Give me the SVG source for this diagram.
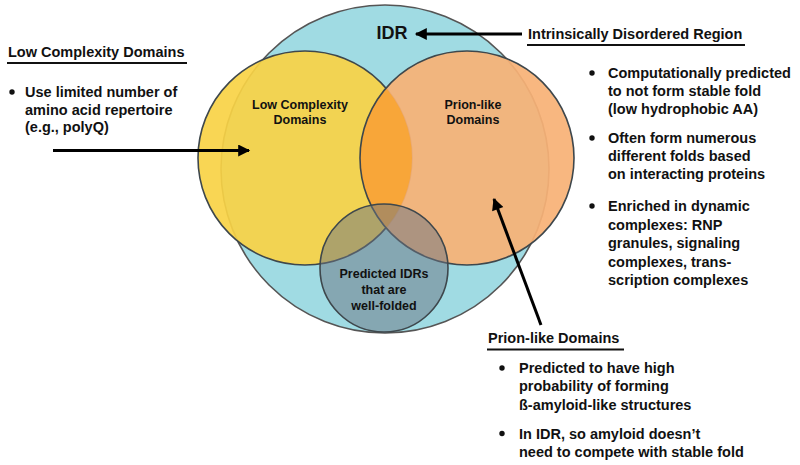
<svg xmlns="http://www.w3.org/2000/svg" width="800" height="465" viewBox="0 0 800 465">
<style>
text{font-family:"Liberation Sans",Arial,sans-serif;font-weight:bold;fill:#111}
.h{font-size:14.5px}
.t{font-size:14.5px}
.c{font-size:12.5px;text-anchor:middle}
.ul{stroke:#111;stroke-width:2}
.arr{stroke:#000;stroke-width:3;fill:none}
.circ{stroke:#3e474c;stroke-width:1.6}
</style>
<defs>
<marker id="ah" viewBox="0 0 10 10" refX="9" refY="5" markerWidth="4.4" markerHeight="4" orient="auto" markerUnits="strokeWidth">
<path d="M0,0 L10,5 L0,10 z" fill="#000"/>
</marker>
<clipPath id="clipY"><circle cx="305" cy="158" r="107"/></clipPath>
</defs>
<g id="venn">
<g id="idr-circle"><circle cx="385" cy="169" r="164" fill="#a0dbe3" stroke="#555" stroke-width="1.6"/>
<text x="392" y="39" style="font-size:18px;text-anchor:middle">IDR</text></g>
<g id="lcd-circle"><circle cx="305" cy="158" r="107" fill="#f9d245" fill-opacity="0.92" class="circ"/></g>
<g id="pld-circle"><circle cx="467" cy="158" r="107" fill="#f8b176" fill-opacity="0.93" stroke="none"/>
<circle cx="467" cy="158" r="107" fill="#f8a535" fill-opacity="0.93" clip-path="url(#clipY)"/>
<circle cx="467" cy="158" r="107" fill="none" class="circ"/></g>
<g id="folded-circle"><circle cx="384" cy="268" r="64" fill="#697382" fill-opacity="0.5" class="circ"/></g>
<g id="labels-in">
<text class="c" x="300" y="109">Low Complexity</text>
<text class="c" x="300" y="124">Domains</text>
<text class="c" x="473" y="109">Prion-like</text>
<text class="c" x="473" y="124">Domains</text>
<text class="c" x="384" y="278">Predicted IDRs</text>
<text class="c" x="384" y="294">that are</text>
<text class="c" x="384" y="310">well-folded</text>
</g>
</g>
<g id="connectors">
<line class="arr" x1="53" y1="150.5" x2="249" y2="150.5" marker-end="url(#ah)"/>
<line class="arr" x1="522" y1="34" x2="416" y2="34" marker-end="url(#ah)"/>
<line class="arr" x1="541" y1="325" x2="494" y2="199" marker-end="url(#ah)"/>
</g>
<g id="lcd-note">
<text class="h" x="8" y="57">Low Complexity Domains</text>
<line class="ul" x1="7" y1="63" x2="187" y2="63"/>
<circle cx="12" cy="92" r="2.7" fill="#111"/>
<text class="t" x="25" y="97">Use limited number of</text>
<text class="t" x="25" y="114.5">amino acid repertoire</text>
<text class="t" x="25" y="132">(e.g., polyQ)</text>
</g>
<g id="idr-note">
<text class="h" x="528" y="38.5">Intrinsically Disordered Region</text>
<line class="ul" x1="527" y1="45" x2="745" y2="45"/>
<circle cx="592" cy="73" r="2.7" fill="#111"/>
<text class="t" x="608" y="78">Computationally predicted</text>
<text class="t" x="608" y="96">to not form stable fold</text>
<text class="t" x="608" y="114">(low hydrophobic AA)</text>
<circle cx="592" cy="138" r="2.7" fill="#111"/>
<text class="t" x="608" y="143">Often form numerous</text>
<text class="t" x="608" y="161">different folds based</text>
<text class="t" x="608" y="179">on interacting proteins</text>
<circle cx="592" cy="206" r="2.7" fill="#111"/>
<text class="t" x="608" y="211">Enriched in dynamic</text>
<text class="t" x="608" y="229.5">complexes: RNP</text>
<text class="t" x="608" y="248">granules, signaling</text>
<text class="t" x="608" y="266.5">complexes, trans-</text>
<text class="t" x="608" y="285">scription complexes</text>
</g>
<g id="pld-note">
<text class="h" x="488" y="343">Prion-like Domains</text>
<line class="ul" x1="487" y1="349.5" x2="624" y2="349.5"/>
<circle cx="502" cy="368" r="2.7" fill="#111"/>
<text class="t" x="519" y="373">Predicted to have high</text>
<text class="t" x="519" y="391">probability of forming</text>
<text class="t" x="519" y="409.5">ß-amyloid-like structures</text>
<circle cx="502" cy="433.5" r="2.7" fill="#111"/>
<text class="t" x="519" y="438.5">In IDR, so amyloid doesn’t</text>
<text class="t" x="519" y="457">need to compete with stable fold</text>
</g>
</svg>
